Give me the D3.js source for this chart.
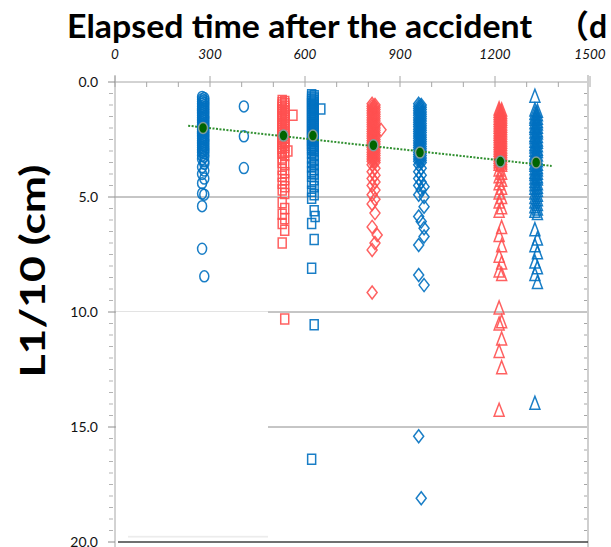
<!DOCTYPE html>
<html>
<head>
<meta charset="utf-8">
<script src="https://cdn.jsdelivr.net/npm/d3@7"></script>
<style>
  html, body { margin: 0; padding: 0; background: #fff; overflow: hidden; }
  svg { display: block; }
</style>
</head>
<body>
<svg id="chart" width="611" height="547"></svg>
<script>
// Axis ticks
const xTicks = [0, 300, 600, 900, 1200, 1500];
const yTicks = [0, 5, 10, 15, 20];

// L1/10 values (cm) by survey day; each survey spans a few days
const blueCircleDays = [275, 282, 407];
const blueCircleValuesA = [0.65, 0.75, 0.85, 0.95, 1.05, 1.15, 1.25, 1.35, 1.45, 1.55, 1.65, 1.75, 1.85, 1.95, 2.05, 2.15, 2.25, 2.35, 2.45, 2.55, 2.65, 2.75, 2.85, 2.95, 3.05, 3.2, 3.35, 3.7, 4.0, 4.4, 4.85, 5.4, 7.25];
const blueCircleValuesB = [0.7, 0.8, 0.9, 1.0, 1.1, 1.2, 1.3, 1.4, 1.5, 1.6, 1.7, 1.8, 1.9, 2.0, 2.1, 2.2, 2.3, 2.4, 2.5, 2.6, 2.7, 2.8, 2.9, 3.0, 3.1, 3.25, 3.45, 3.55, 3.85, 4.2, 4.9, 8.45];
const blueCircleValuesC = [1.06, 2.36, 3.74];

const redSquareDays = [528, 536, 562, 546];
const redSquareValuesA = [0.8, 0.9, 1.0, 1.1, 1.2, 1.3, 1.4, 1.5, 1.6, 1.7, 1.8, 1.9, 2.0, 2.1, 2.2, 2.3, 2.4, 2.5, 2.6, 2.7, 2.8, 2.9, 3.0, 3.1, 3.3, 3.5, 3.8, 4.1, 4.4, 4.7, 5.25, 5.75, 6.15, 7.0];
const redSquareValuesB = [0.85, 0.95, 1.05, 1.15, 1.25, 1.35, 1.45, 1.55, 1.65, 1.75, 1.85, 1.95, 2.05, 2.15, 2.25, 2.35, 2.45, 2.55, 2.65, 2.75, 2.85, 3.05, 3.2, 3.6, 3.95, 4.25, 4.55, 4.85, 5.5, 5.95, 6.45, 10.3];
const redSquareValuesC = [1.45];
const redSquareValuesD = [3.0];

const blueSquareDays = [621, 629, 650, 632];
const blueSquareValuesA = [0.55, 0.65, 0.75, 0.85, 0.95, 1.05, 1.15, 1.25, 1.35, 1.45, 1.55, 1.65, 1.75, 1.85, 1.95, 2.05, 2.15, 2.25, 2.35, 2.45, 2.55, 2.65, 2.75, 2.85, 2.95, 3.1, 3.3, 3.5, 3.7, 3.9, 4.1, 4.4, 4.75, 5.05, 6.15, 8.1, 16.4];
const blueSquareValuesB = [0.6, 0.7, 0.8, 0.9, 1.0, 1.1, 1.2, 1.3, 1.4, 1.5, 1.6, 1.7, 1.8, 1.9, 2.0, 2.1, 2.2, 2.3, 2.4, 2.5, 2.6, 2.7, 2.8, 2.9, 3.0, 3.2, 3.4, 3.6, 3.8, 4.0, 4.25, 4.55, 4.9, 5.6, 6.85, 10.55];
const blueSquareValuesC = [1.17];
const blueSquareValuesD = [5.85];

const redDiamondDays = [812, 821, 840, 828];
const redDiamondValuesA = [0.95, 1.05, 1.15, 1.25, 1.35, 1.45, 1.55, 1.65, 1.75, 1.85, 1.95, 2.05, 2.15, 2.25, 2.35, 2.45, 2.55, 2.65, 2.75, 2.85, 2.95, 3.05, 3.15, 3.25, 3.35, 3.45, 3.6, 3.9, 4.2, 4.5, 4.9, 5.3, 6.3, 7.3, 9.15];
const redDiamondValuesB = [1.0, 1.1, 1.2, 1.3, 1.4, 1.5, 1.6, 1.7, 1.8, 1.9, 2.0, 2.1, 2.2, 2.3, 2.4, 2.5, 2.6, 2.7, 2.8, 2.9, 3.0, 3.1, 3.2, 3.3, 3.4, 3.5, 3.75, 4.05, 4.35, 4.7, 5.1, 5.7, 7.0];
const redDiamondValuesC = [2.08];
const redDiamondValuesD = [6.65];

const blueDiamondDays = [959, 967, 976];
const blueDiamondValuesA = [0.95, 1.05, 1.15, 1.25, 1.35, 1.45, 1.55, 1.65, 1.75, 1.85, 1.95, 2.05, 2.15, 2.25, 2.35, 2.45, 2.55, 2.65, 2.75, 2.85, 2.95, 3.05, 3.15, 3.25, 3.35, 3.45, 3.6, 3.9, 4.2, 4.5, 4.9, 5.85, 7.09, 8.39, 15.4];
const blueDiamondValuesB = [1.0, 1.1, 1.2, 1.3, 1.4, 1.5, 1.6, 1.7, 1.8, 1.9, 2.0, 2.1, 2.2, 2.3, 2.4, 2.5, 2.6, 2.7, 2.8, 2.9, 3.0, 3.1, 3.2, 3.3, 3.4, 3.5, 3.75, 4.05, 4.35, 4.7, 6.07, 18.1];
const blueDiamondValuesC = [4.55, 5.0, 5.42, 6.36, 6.72, 8.83];

const redTriangleDays = [1213, 1221];
const redTriangleValuesA = [1.15, 1.25, 1.35, 1.45, 1.55, 1.65, 1.75, 1.85, 1.95, 2.05, 2.15, 2.25, 2.35, 2.45, 2.55, 2.65, 2.75, 2.85, 2.95, 3.05, 3.15, 3.25, 3.35, 3.45, 3.55, 3.8, 4.1, 4.4, 4.8, 5.2, 5.6, 6.65, 7.55, 8.2, 9.8, 10.5, 11.7, 14.25];
const redTriangleValuesB = [1.2, 1.3, 1.4, 1.5, 1.6, 1.7, 1.8, 1.9, 2.0, 2.1, 2.2, 2.3, 2.4, 2.5, 2.6, 2.7, 2.8, 2.9, 3.0, 3.1, 3.2, 3.3, 3.4, 3.5, 3.6, 3.95, 4.25, 4.6, 5.0, 5.45, 6.3, 7.1, 7.85, 8.35, 10.4, 11.15, 12.4];

const blueTriangleDays = [1326, 1334];
const blueTriangleValuesA = [0.6, 1.2, 1.35, 1.5, 1.6, 1.75, 1.9, 2.0, 2.15, 2.3, 2.4, 2.55, 2.7, 2.8, 2.95, 3.1, 3.2, 3.35, 3.5, 3.6, 3.75, 3.9, 4.0, 4.15, 4.3, 4.45, 4.6, 4.8, 5.0, 5.2, 5.4, 5.6, 6.4, 7.1, 7.8, 8.35, 13.95];
const blueTriangleValuesB = [1.25, 1.4, 1.55, 1.7, 1.8, 1.95, 2.1, 2.2, 2.35, 2.5, 2.6, 2.75, 2.9, 3.0, 3.15, 3.3, 3.4, 3.55, 3.7, 3.8, 3.95, 4.1, 4.2, 4.4, 4.55, 4.7, 4.9, 5.1, 5.3, 5.5, 5.7, 6.8, 7.4, 8.05, 8.7];

// Group means and the linear trend through them
const meanDays = [278, 532, 625, 816, 963, 1217, 1330];
const meanValues = [2.0, 2.33, 2.33, 2.75, 3.07, 3.46, 3.5];
const trendDays = [231, 1379];
const trendValues = [1.9, 3.65];

const BLUE = "#0070C0";
const RED = "#FF5050";

const svg = d3.select("#chart");
const x = d3.scaleLinear().domain([0, 1500]).range([115, 590]);
const y = d3.scaleLinear().domain([0, 20]).range([82, 542]);
const plotRight = 588;

// Horizontal gridlines
svg.append("g").selectAll("line")
  .data(yTicks.filter(v => v > 0 && v < 20))
  .join("line")
  .attr("x1", x(0)).attr("x2", plotRight)
  .attr("y1", d => y(d)).attr("y2", d => y(d))
  .attr("stroke", "#8c8c8c").attr("stroke-width", 1);

// Blank panel in the lower left of the plot
svg.append("rect").attr("x", 128).attr("y", y(19.72))
  .attr("width", 140).attr("height", 2).attr("fill", "#ececec");
svg.append("rect").attr("x", x(0) + 1).attr("y", y(10) - 0.5)
  .attr("width", 152).attr("height", y(19.72) - y(10) + 0.5).attr("fill", "#fff");

// Top axis (elapsed days)
const topAxis = svg.append("g");
topAxis.append("line").attr("x1", x(0)).attr("x2", plotRight)
  .attr("y1", y(0)).attr("y2", y(0)).attr("stroke", "#a6a6a6");
topAxis.selectAll("line.tick")
  .data(d3.range(0, 1501, 100))
  .join("line").attr("class", "tick")
  .attr("x1", d => x(d)).attr("x2", d => x(d))
  .attr("y1", d => d % 300 === 0 ? y(0) - 6 : y(0))
  .attr("y2", y(0) + 5)
  .attr("stroke", "#a6a6a6");
topAxis.selectAll("text")
  .data(xTicks)
  .join("text")
  .attr("x", d => x(d)).attr("y", 59)
  .attr("text-anchor", "middle")
  .attr("font-family", "Lato, sans-serif")
  .attr("font-style", "italic")
  .attr("font-size", 13.5)
  .attr("fill", "#111")
  .text(d => d);

// Left axis (L1/10)
const leftAxis = svg.append("g");
leftAxis.append("line").attr("x1", x(0)).attr("x2", x(0))
  .attr("y1", y(0) - 7).attr("y2", 547).attr("stroke", "#a6a6a6");
leftAxis.selectAll("line.tick")
  .data(d3.range(0, 20.01, 0.5))
  .join("line").attr("class", "tick")
  .attr("x1", d => d % 5 === 0 ? x(0) - 7 : x(0) - 6)
  .attr("x2", d => d % 5 === 0 ? x(0) : x(0) - 2)
  .attr("y1", d => y(d)).attr("y2", d => y(d))
  .attr("stroke", d => d % 5 === 0 ? "#8c8c8c" : "#b3b3b3");
leftAxis.selectAll("text")
  .data(yTicks)
  .join("text")
  .attr("x", 98).attr("y", d => y(d))
  .attr("dy", "0.36em")
  .attr("text-anchor", "end")
  .attr("font-family", "Lato, sans-serif")
  .attr("font-size", 14)
  .attr("fill", "#111")
  .text(d => d3.format(".1f")(d));

// Right axis
const rightAxis = svg.append("g");
rightAxis.append("line").attr("x1", plotRight).attr("x2", plotRight)
  .attr("y1", y(0) - 7).attr("y2", 547).attr("stroke", "#cfcfcf").attr("stroke-width", 2);
rightAxis.selectAll("line.tick")
  .data(d3.range(0.5, 20, 0.5).filter(d => d % 5 !== 0))
  .join("line").attr("class", "tick")
  .attr("x1", plotRight - 4).attr("x2", plotRight - 1)
  .attr("y1", d => y(d)).attr("y2", d => y(d))
  .attr("stroke", "#a6a6a6");

// Bottom frame
svg.append("line").attr("x1", x(0) + 3).attr("x2", plotRight)
  .attr("y1", y(20)).attr("y2", y(20))
  .attr("stroke", "#404040").attr("stroke-width", 1.5);

// Marker shapes
const shapes = {
  circle: "M0,-5.5 A4.5,5.5 0 1,1 0,5.5 A4.5,5.5 0 1,1 0,-5.5 Z",
  square: "M-4,-5 H4 V5 H-4 Z",
  diamond: "M0,-6.5 L5,0 L0,6.5 L-5,0 Z",
  triangle: "M0,-6.5 L5,6.5 L-5,6.5 Z"
};

function toPoints(days, valueLists) {
  return valueLists.flatMap((vals, i) => vals.map(v => ({ day: days[i], value: v })));
}

const groups = [
  { shape: "circle", color: BLUE, points: toPoints(blueCircleDays, [blueCircleValuesA, blueCircleValuesB, blueCircleValuesC]) },
  { shape: "square", color: RED, points: toPoints(redSquareDays, [redSquareValuesA, redSquareValuesB, redSquareValuesC, redSquareValuesD]) },
  { shape: "square", color: BLUE, points: toPoints(blueSquareDays, [blueSquareValuesA, blueSquareValuesB, blueSquareValuesC, blueSquareValuesD]) },
  { shape: "diamond", color: RED, points: toPoints(redDiamondDays, [redDiamondValuesA, redDiamondValuesB, redDiamondValuesC, redDiamondValuesD]) },
  { shape: "diamond", color: BLUE, points: toPoints(blueDiamondDays, [blueDiamondValuesA, blueDiamondValuesB, blueDiamondValuesC]) },
  { shape: "triangle", color: RED, points: toPoints(redTriangleDays, [redTriangleValuesA, redTriangleValuesB]) },
  { shape: "triangle", color: BLUE, points: toPoints(blueTriangleDays, [blueTriangleValuesA, blueTriangleValuesB]) }
];

const markers = svg.append("g");
groups.forEach(g => {
  markers.append("g").selectAll("path")
    .data(g.points)
    .join("path")
    .attr("d", shapes[g.shape])
    .attr("transform", d => `translate(${x(d.day)},${y(d.value)})`)
    .attr("fill", "none")
    .attr("stroke", g.color)
    .attr("stroke-width", 1.5)
    .attr("stroke-opacity", 0.9);
});

// Trend line
svg.append("path")
  .datum(trendDays.map((d, i) => [d, trendValues[i]]))
  .attr("d", d3.line().x(d => x(d[0])).y(d => y(d[1])))
  .attr("fill", "none")
  .attr("stroke", "#2f8f2f")
  .attr("stroke-width", 2)
  .attr("stroke-dasharray", "2,1.5");

// Group means
svg.append("g").selectAll("ellipse")
  .data(meanDays.map((d, i) => ({ day: d, value: meanValues[i] })))
  .join("ellipse")
  .attr("cx", d => x(d.day)).attr("cy", d => y(d.value))
  .attr("rx", 4.5).attr("ry", 5.5)
  .attr("fill", "#006400")
  .attr("stroke", "#7f9c9c")
  .attr("stroke-width", 1.5);

// Titles
svg.append("text")
  .attr("x", 67).attr("y", 38)
  .attr("font-family", "Lato, sans-serif")
  .attr("font-weight", "bold")
  .attr("font-size", 32)
  .attr("textLength", 465)
  .attr("lengthAdjust", "spacingAndGlyphs")
  .attr("fill", "#000")
  .text("Elapsed time after the accident");
svg.append("text")
  .attr("x", 557).attr("y", 38)
  .attr("font-family", "Lato, 'Noto Sans CJK JP', sans-serif")
  .attr("font-weight", "bold")
  .attr("font-size", 32)
  .attr("fill", "#000")
  .text("（d");

svg.append("text")
  .attr("transform", "translate(45,271) rotate(-90)")
  .attr("text-anchor", "middle")
  .attr("font-family", "Lato, sans-serif")
  .attr("font-weight", "bold")
  .attr("font-size", 35)
  .attr("textLength", 213)
  .attr("lengthAdjust", "spacingAndGlyphs")
  .attr("fill", "#000")
  .text("L1/10 (cm)");
</script>
</body>
</html>
